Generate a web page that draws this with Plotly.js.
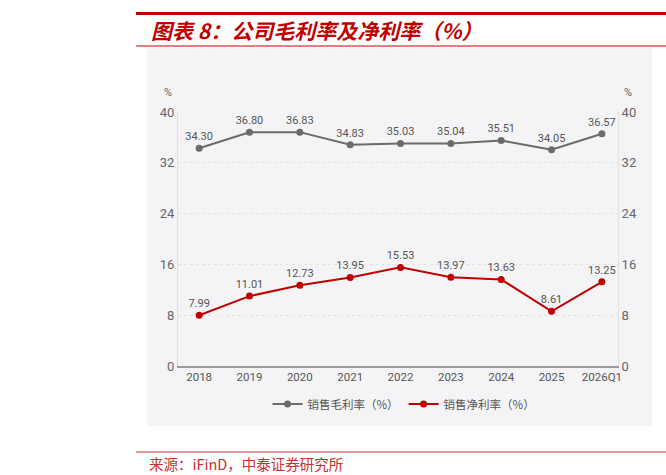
<!DOCTYPE html>
<html>
<head>
<meta charset="utf-8">
<script src="https://cdn.plot.ly/plotly-3.0.1.min.js"></script>
<style>html,body{margin:0;padding:0;background:#fff;}#chart{width:666px;height:475px;}</style>
</head>
<body>
<div id="chart"></div>
<script>
var categories = ["2018","2019","2020","2021","2022","2023","2024","2025","2026Q1"];
var grossMargin = [34.30, 36.80, 36.83, 34.83, 35.03, 35.04, 35.51, 34.05, 36.57];
var netMargin = [7.99, 11.01, 12.73, 13.95, 15.53, 13.97, 13.63, 8.61, 13.25];
var grossName = "销售毛利率（%）";
var netName = "销售净利率（%）";
var yTicks = [0, 8, 16, 24, 32, 40];

// layout geometry (pixels)
var W = 666, H = 475;
var L = 178, R = 618, T = 112, B = 366;
function px(x){ return (x - L) / (R - L); }
function py(y){ return 1 - (y - T) / (B - T); }

var fmt = function(v){ return v.toFixed(2); };

var traces = [
  {
    x: categories, y: grossMargin, name: grossName, type: "scatter",
    mode: "lines+markers+text",
    text: grossMargin.map(fmt), textposition: "top center",
    textfont: {family: "Roboto, Arial, sans-serif", size: 11, color: "#555"},
    line: {color: "#6b6b6b", width: 2},
    marker: {color: "#6b6b6b", size: 7},
    cliponaxis: false
  },
  {
    x: categories, y: netMargin, name: netName, type: "scatter",
    mode: "lines+markers+text", yaxis: "y2",
    text: netMargin.map(fmt), textposition: "top center",
    textfont: {family: "Roboto, Arial, sans-serif", size: 11, color: "#555"},
    line: {color: "#c00000", width: 2},
    marker: {color: "#c00000", size: 7},
    cliponaxis: false
  }
];

var axisFont = {family: "Roboto, Arial, sans-serif", size: 13, color: "#666"};

var layout = {
  width: W, height: H,
  margin: {l: L, r: W - R, t: T, b: H - B, pad: 0},
  paper_bgcolor: "#ffffff",
  plot_bgcolor: "rgba(0,0,0,0)",
  showlegend: true,
  legend: {
    orientation: "h", x: px(404), y: py(404), xanchor: "center", yanchor: "middle",
    font: {family: "Noto Sans CJK SC, sans-serif", size: 11.5, color: "#555"},
    bgcolor: "rgba(0,0,0,0)", itemwidth: 30, traceorder: "normal"
  },
  xaxis: {
    type: "category", range: [-0.42, 8.32], showgrid: false, zeroline: false,
    showline: true, linecolor: "#9a9a9a", linewidth: 1.5,
    ticks: "", tickfont: {family: "Roboto, Arial, sans-serif", size: 11.5, color: "#555"},
    fixedrange: true
  },
  yaxis: {
    range: [0, 40], tickvals: yTicks, ticktext: yTicks.map(String),
    showgrid: true, gridcolor: "#e2e2e2", griddash: "dot", gridwidth: 1,
    zeroline: false, showline: true, linecolor: "#e0e0e0", linewidth: 1,
    ticks: "", ticklen: 0, tickfont: axisFont, fixedrange: true
  },
  yaxis2: {
    range: [0, 40], tickvals: yTicks, ticktext: yTicks.map(String),
    overlaying: "y", side: "right", showgrid: false, zeroline: false,
    showline: true, linecolor: "#e0e0e0", linewidth: 1,
    ticks: "", tickfont: axisFont, fixedrange: true
  },
  shapes: [
    {type: "rect", xref: "paper", yref: "paper", x0: px(147), x1: px(652), y0: py(426), y1: py(48),
     fillcolor: "#f4f4f6", line: {width: 0}, layer: "below"},
    {type: "line", xref: "paper", yref: "paper", x0: px(136), x1: px(666), y0: py(13.5), y1: py(13.5),
     line: {color: "#c00000", width: 3}},
    {type: "line", xref: "paper", yref: "paper", x0: px(136), x1: px(666), y0: py(46), y1: py(46),
     line: {color: "#c00000", width: 1}},
    {type: "line", xref: "paper", yref: "paper", x0: px(136), x1: px(666), y0: py(452), y1: py(452),
     line: {color: "#d03030", width: 1}}
  ],
  annotations: [
    {text: "<b><i>图表 8：公司毛利率及净利率（%）</i></b>", xref: "paper", yref: "paper",
     x: px(149), y: py(30), xanchor: "left", yanchor: "middle", showarrow: false,
     font: {family: "Noto Sans CJK SC, sans-serif", size: 21, color: "#c00000"}},
    {text: "来源：iFinD，中泰证券研究所", xref: "paper", yref: "paper",
     x: px(147), y: py(463), xanchor: "left", yanchor: "middle", showarrow: false,
     font: {family: "Noto Sans CJK SC, sans-serif", size: 14.5, color: "#c83030"}},
    {text: "%", xref: "paper", yref: "paper", x: px(168), y: py(93), xanchor: "center", yanchor: "middle",
     showarrow: false, font: {family: "Roboto, Arial, sans-serif", size: 11, color: "#666"}},
    {text: "%", xref: "paper", yref: "paper", x: px(628), y: py(93), xanchor: "center", yanchor: "middle",
     showarrow: false, font: {family: "Roboto, Arial, sans-serif", size: 11, color: "#666"}}
  ]
};

Plotly.newPlot("chart", traces, layout, {displayModeBar: false, staticPlot: true});
</script>
</body>
</html>
